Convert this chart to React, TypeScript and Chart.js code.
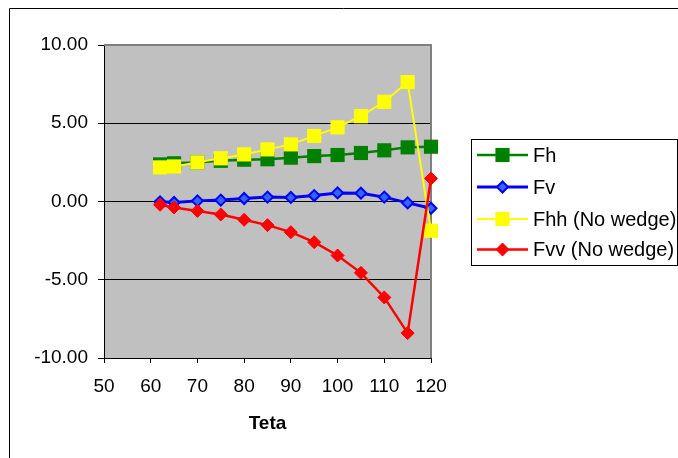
import React, { useEffect, useRef } from "react";
import { Chart, registerables } from "chart.js";

Chart.register(...registerables);

const tetaValues = [62, 65, 70, 75, 80, 85, 90, 95, 100, 105, 110, 115, 120];
const fhValues = [2.37, 2.44, 2.5, 2.6, 2.67, 2.7, 2.8, 2.9, 2.97, 3.1, 3.27, 3.46, 3.5];
const fvValues = [-0.02, -0.06, 0.04, 0.09, 0.19, 0.28, 0.26, 0.38, 0.55, 0.53, 0.28, -0.09, -0.43];
const fhhValues = [2.18, 2.24, 2.5, 2.76, 3.01, 3.33, 3.65, 4.19, 4.74, 5.45, 6.37, 7.63, -1.87];
const fvvValues = [-0.21, -0.38, -0.6, -0.83, -1.17, -1.51, -1.96, -2.6, -3.45, -4.56, -6.13, -8.41, 1.47];
const seriesNames = ["Fh", "Fv", "Fhh (No wedge)", "Fvv (No wedge)"];
const xTitle = "Teta";

const FONT = "'Liberation Sans', Arial, sans-serif";

const toPoints = (ys: number[]) => tetaValues.map((x, i) => ({ x, y: ys[i] }));

const framePlugin = {
  id: "excelFrame",
  beforeDraw(chart: any) {
    const { ctx, chartArea } = chart;
    ctx.save();
    ctx.fillStyle = "#ffffff";
    ctx.fillRect(0, 0, chart.width, chart.height);
    ctx.fillStyle = "#C0C0C0";
    ctx.fillRect(chartArea.left, chartArea.top, chartArea.right - chartArea.left, chartArea.bottom - chartArea.top);
    ctx.strokeStyle = "#000000";
    ctx.lineWidth = 1;
    ctx.beginPath();
    ctx.moveTo(9.5, chart.height);
    ctx.lineTo(9.5, 8.5);
    ctx.lineTo(chart.width, 8.5);
    ctx.stroke();
    ctx.restore();
  },
  beforeDatasetsDraw(chart: any) {
    const { ctx, chartArea } = chart;
    ctx.save();
    ctx.strokeStyle = "#808080";
    ctx.lineWidth = 2;
    ctx.beginPath();
    ctx.moveTo(chartArea.left, chartArea.top);
    ctx.lineTo(chartArea.right, chartArea.top);
    ctx.lineTo(chartArea.right, chartArea.bottom);
    ctx.stroke();
    ctx.restore();
  },
  afterDraw(chart: any) {
    const { ctx } = chart;
    const boxL = 471.5, boxT = 139.5, boxW = 206, boxH = 126;
    ctx.save();
    ctx.strokeStyle = "#000000";
    ctx.lineWidth = 1;
    ctx.strokeRect(boxL, boxT, boxW, boxH);
    const rows = [155, 187, 219, 249.5];
    chart.data.datasets.forEach((ds: any, i: number) => {
      const y = rows[i];
      ctx.strokeStyle = ds.borderColor;
      ctx.lineWidth = ds.borderWidth;
      ctx.beginPath();
      ctx.moveTo(477, y);
      ctx.lineTo(528, y);
      ctx.stroke();
      const cx = 502.5;
      const r = ds.pointRadius;
      ctx.fillStyle = ds.pointBackgroundColor;
      ctx.strokeStyle = ds.pointBorderColor;
      ctx.lineWidth = ds.pointBorderWidth;
      ctx.beginPath();
      if (ds.pointStyle === "rect") {
        const s = Math.SQRT1_2 * r;
        ctx.rect(cx - s, y - s, 2 * s, 2 * s);
      } else {
        ctx.moveTo(cx - r, y);
        ctx.lineTo(cx, y - r);
        ctx.lineTo(cx + r, y);
        ctx.lineTo(cx, y + r);
        ctx.closePath();
      }
      ctx.fill();
      if (ds.pointBorderWidth > 0) ctx.stroke();
      ctx.fillStyle = "#000000";
      ctx.font = `20px ${FONT}`;
      ctx.textBaseline = "middle";
      ctx.textAlign = "left";
      ctx.fillText(ds.label, 533, y + 1);
    });
    ctx.restore();
  },
};

export default function App() {
  const canvasRef = useRef<HTMLCanvasElement | null>(null);

  useEffect(() => {
    if (!canvasRef.current) return;
    const mk = (i: number, data: number[], color: string, fill: string, style: string, lw: number, r: number, bw: number, order: number) => ({
      label: seriesNames[i],
      data: toPoints(data),
      borderColor: color,
      backgroundColor: fill,
      borderWidth: lw,
      pointStyle: style,
      pointRadius: r,
      pointHoverRadius: r,
      pointBackgroundColor: fill,
      pointBorderColor: color,
      pointBorderWidth: bw,
      tension: 0,
      clip: false,
      order,
    });
    const chart = new Chart(canvasRef.current, {
      type: "line",
      data: {
        datasets: [
          mk(0, fhValues, "#008000", "#008000", "rect", 2.5, 10, 0, 4),
          mk(1, fvValues, "#0000FF", "#3366FF", "rectRot", 3, 5.5, 2, 3),
          mk(2, fhhValues, "#FFFF00", "#FFFF00", "rect", 2, 10, 0, 2),
          mk(3, fvvValues, "#FF0000", "#FF0000", "rectRot", 2.5, 6.5, 1, 1),
        ] as any,
      },
      options: {
        animation: false,
        responsive: true,
        maintainAspectRatio: false,
        layout: { padding: { left: 0, top: 45, right: 247, bottom: 0 } },
        plugins: { legend: { display: false }, tooltip: { enabled: false } },
        scales: {
          x: {
            type: "linear",
            min: 50,
            max: 120,
            afterFit: (s: any) => { s.height = 100; },
            border: { display: true, color: "#000000", width: 1 },
            grid: { drawOnChartArea: false, drawTicks: true, tickLength: 5, tickColor: "#000000" },
            ticks: { stepSize: 10, color: "#000000", padding: 12, maxRotation: 0, font: { family: FONT, size: 19 } },
            title: { display: true, text: xTitle, color: "#000000", font: { family: FONT, size: 19, weight: "bold" }, padding: { top: 0, bottom: 23 } },
          },
          y: {
            type: "linear",
            min: -10,
            max: 10,
            afterFit: (s: any) => { s.width = 104; },
            border: { display: true, color: "#000000", width: 1 },
            grid: {
              drawTicks: true,
              tickLength: 6,
              tickColor: "#000000",
              color: (c: any) => (c.tick && (c.tick.value === 10 || c.tick.value === -10) ? "rgba(0,0,0,0)" : "#000000"),
            },
            ticks: {
              stepSize: 5,
              color: "#000000",
              padding: 10,
              font: { family: FONT, size: 19 },
              callback: (v: any) => Number(v).toFixed(2),
            },
          },
        },
      } as any,
      plugins: [framePlugin],
    });
    return () => chart.destroy();
  }, []);

  return (
    <div style={{ position: "absolute", left: 0, top: 0, width: 678, height: 458 }}>
      <canvas ref={canvasRef} />
    </div>
  );
}
